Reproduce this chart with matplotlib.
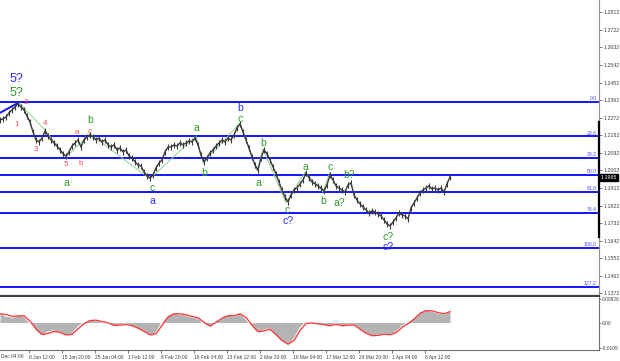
import matplotlib
matplotlib.use("Agg")
import matplotlib.pyplot as plt
import matplotlib.transforms as mtrans
import numpy as np

plt.rcParams['font.family'] = ['Liberation Sans', 'DejaVu Sans']

# ---------------- data ----------------
close = [1.2261, 1.2266, 1.2276, 1.2297, 1.2312, 1.2327, 1.2343, 1.2327, 1.2312, 1.2281,
         1.2250, 1.2199, 1.2158, 1.2148, 1.2168, 1.2204, 1.2179, 1.2158, 1.2143, 1.2127,
         1.2107, 1.2087, 1.2076, 1.2097, 1.2127, 1.2143, 1.2158, 1.2122, 1.2158, 1.2174,
         1.2184, 1.2174, 1.2158, 1.2168, 1.2148, 1.2158, 1.2133, 1.2122, 1.2133, 1.2107,
         1.2117, 1.2097, 1.2107, 1.2076, 1.2066, 1.2046, 1.2030, 1.2025, 1.1994, 1.1974,
         1.1964, 1.1979, 1.2015, 1.2040, 1.2056, 1.2097, 1.2122, 1.2122, 1.2133, 1.2127,
         1.2143, 1.2133, 1.2143, 1.2153, 1.2148, 1.2168, 1.2133, 1.2081, 1.2046, 1.2066,
         1.2092, 1.2107, 1.2127, 1.2143, 1.2158, 1.2148, 1.2168, 1.2158, 1.2184, 1.2220,
         1.2240, 1.2199, 1.2158, 1.2117, 1.2071, 1.2030, 1.2005, 1.2066, 1.2107, 1.2087,
         1.2056, 1.2020, 1.1984, 1.1943, 1.1902, 1.1866, 1.1841, 1.1877, 1.1902, 1.1912,
         1.1933, 1.1953, 1.1989, 1.1964, 1.1943, 1.1933, 1.1923, 1.1912, 1.1897, 1.1928,
         1.1979, 1.1953, 1.1923, 1.1912, 1.1902, 1.1892, 1.1928, 1.1938, 1.1877, 1.1851,
         1.1831, 1.1815, 1.1800, 1.1784, 1.1795, 1.1790, 1.1779, 1.1769, 1.1749, 1.1728,
         1.1718, 1.1738, 1.1759, 1.1784, 1.1774, 1.1769, 1.1754, 1.1810, 1.1836, 1.1861,
         1.1887, 1.1902, 1.1912, 1.1923, 1.1907, 1.1912, 1.1902, 1.1912, 1.1892, 1.1933,
         1.1969]

macd = [0.00391, 0.00267, 0.00226, 0.00309, 0.00267, -0.00021, -0.00350, -0.00556, -0.00391, -0.00350,
        -0.00432, -0.00556, -0.00473, -0.00185, 0.00021, 0.00103, 0.00103, 0.00021, -0.00021, -0.00144,
        -0.00103, -0.00062, -0.00144, -0.00267, -0.00391, -0.00556, -0.00432, 0.00021, 0.00309, 0.00391,
        0.00350, 0.00309, 0.00226, 0.00185, -0.00062, -0.00185, 0.00062, 0.00226, 0.00309, 0.00267,
        0.00391, 0.00144, -0.00185, -0.00432, -0.00309, -0.00267, -0.00556, -0.00802, -0.00926, -0.00679,
        -0.00226, 0.00021, -0.00021, -0.00062, -0.00103, -0.00144, -0.00062, -0.00144, -0.00103, -0.00103,
        -0.00309, -0.00473, -0.00556, -0.00514, -0.00473, -0.00514, -0.00391, -0.00144, -0.00021, 0.00185,
        0.00432, 0.00514, 0.00473, 0.00391, 0.00350, 0.00473]

signal = [0.0036, 0.0033, 0.0026, 0.0027, 0.0028, 0.0006, -0.0026, -0.0049, -0.0045, -0.0037,
          -0.0040, -0.0051, -0.0049, -0.0026, -0.0005, 0.0008, 0.0010, 0.0004, -0.0001, -0.0012,
          -0.0011, -0.0008, -0.0013, -0.0023, -0.0036, -0.0051, -0.0046, -0.0012, 0.0023, 0.0036,
          0.0036, 0.0032, 0.0025, 0.0020, 0.0001, -0.0015, 0.0001, 0.0018, 0.0028, 0.0028,
          0.0036, 0.0021, -0.0011, -0.0038, -0.0034, -0.0028, -0.0049, -0.0074, -0.0089, -0.0074,
          -0.0033, -0.0004, -0.0002, -0.0005, -0.0009, -0.0013, -0.0008, -0.0013, -0.0011, -0.0010,
          -0.0027, -0.0044, -0.0054, -0.0053, -0.0048, -0.0050, -0.0042, -0.0020, -0.0005, 0.0014,
          0.0038, 0.0049, 0.0048, 0.0041, 0.0036, 0.0045]

price_ticks = [1.2812, 1.2722, 1.2632, 1.2542, 1.2452, 1.2362, 1.2272, 1.2182, 1.2092,
               1.2002, 1.1912, 1.1822, 1.1732, 1.1642, 1.1552, 1.1462, 1.1372]
fib_names = ['0.0', '23.6', '38.2', '50.0', '61.8', '76.4', '100.0', '127.2']
fib_prices = [1.2353, 1.2177, 1.2068, 1.1980, 1.1892, 1.1783, 1.1607, 1.1404]
first_date_label = 'Dec 04:00'
date_labels = ['8 Jan 12:00', '15 Jan 20:00', '25 Jan 04:00', '1 Feb 12:00', '8 Feb 20:00',
               '16 Feb 04:00', '23 Feb 12:00', '2 Mar 20:00', '10 Mar 04:00', '17 Mar 12:00',
               '24 Mar 20:00', '1 Apr 04:00', '8 Apr 12:00']
last_price = 1.1965

# wave labels: (text, slot, price, group)
wave_labels = [
    ('5?', 16, 1.2471, 'blue_big'), ('5?', 16, 1.2399, 'green_big'),
    ('2', 26, 1.2348, 'red'), ('1', 17, 1.2235, 'red'), ('4', 45, 1.2245, 'red'),
    ('3', 36, 1.2107, 'red'), ('5', 66, 1.2030, 'red'), ('a', 77, 1.2194, 'red'),
    ('b', 81, 1.2040, 'red'), ('c', 90, 1.2204, 'red'),
    ('b', 90, 1.2261, 'green'), ('a', 66, 1.1938, 'green'),
    ('c', 152, 1.1912, 'green'), ('a', 152, 1.1846, 'blue'),
    ('a', 196, 1.2220, 'green'), ('b', 204, 1.1989, 'green'),
    ('c', 240, 1.2266, 'green'), ('b', 240, 1.2322, 'blue'),
    ('b', 263, 1.2143, 'green'), ('a', 258, 1.1938, 'green'),
    ('c', 287, 1.1800, 'green'), ('c?', 288, 1.1743, 'blue'),
    ('a', 305, 1.2020, 'green'), ('b', 323, 1.1846, 'green'),
    ('c', 330, 1.2020, 'green'), ('a?', 339, 1.1836, 'green'),
    ('b?', 349, 1.1979, 'green'), ('c?', 388, 1.1662, 'green'), ('c?', 388, 1.1610, 'blue'),
]
zig_slots = [20, 45, 66, 90, 150, 196, 203, 240, 257, 263, 286, 305, 323, 330]
zig_prices = [1.2343, 1.2209, 1.2071, 1.2189, 1.1959, 1.2179, 1.2040, 1.2245, 1.2000,
              1.2112, 1.1836, 1.1994, 1.1892, 1.1994]
blue_wave_slots = [0, 18]
blue_wave_prices = [1.2297, 1.2348]

styles = {
    'blue_big': ('#2a2aff', 9), 'green_big': ('#2e9a2e', 9),
    'blue': ('#2a2aff', 7.5), 'green': ('#2e9a2e', 7.5), 'red': ('#ff4a4a', 5.8),
}

# ---------------- figure ----------------
W, H = 620, 361
fig = plt.figure(figsize=(W / 100, H / 100), dpi=100)
ax = fig.add_axes([0, 65 / H, 599 / W, 296 / H])
ax.set_xlim(0, 599)
ax.set_ylim(1.1359, 1.2875)

xs = np.arange(len(close)) * 3
for p, name in zip(fib_prices, fib_names):
    ax.axhline(p, color='#1414ff', lw=1.4, zorder=2)
    ax.text(597, p + 0.0004, name, color='#4a4aff', fontsize=3.7, ha='right', va='bottom')

ax.plot(zig_slots, zig_prices, color='#8ed08e', lw=0.7, zorder=3)
ax.plot(blue_wave_slots, blue_wave_prices, color='#1414ff', lw=1.4, zorder=3)
ax.plot(xs, close, color='#3a3a3a', lw=1.0, zorder=4)
ax.plot(xs, close, ls='none', marker='|', ms=4, mew=0.8, color='#3a3a3a', zorder=4)

for txt, sx, py, grp in wave_labels:
    c, s = styles[grp]
    ax.text(sx, py, txt, color=c, fontsize=s, ha='center', va='center', zorder=5)

ax.yaxis.tick_right()
ax.set_yticks(price_ticks)
ax.set_yticklabels([f'{v:.4f}' for v in price_ticks])
ax.tick_params(axis='y', labelsize=3.8, length=2, width=0.5, colors='#404040', pad=1.2)
ax.set_xticks([])
for s in ['top', 'left']:
    ax.spines[s].set_visible(False)
ax.spines['right'].set_color('#909090')
ax.spines['right'].set_linewidth(0.8)
ax.spines['bottom'].set_color('#404040')
ax.spines['bottom'].set_linewidth(1.6)

bt = mtrans.blended_transform_factory(ax.transAxes, ax.transData)
ax.plot([1, 1], [1.2250, 1.1660], transform=bt, color='black', lw=1.6, clip_on=False, zorder=6)
ax.text(1.003, last_price, f'{last_price:.4f}', transform=bt, color='white', fontsize=3.8,
        ha='left', va='center', zorder=7,
        bbox=dict(boxstyle='square,pad=0.2', fc='black', ec='black'))

# ---------------- oscillator ----------------
ax2 = fig.add_axes([0, 11 / H, 599 / W, 53 / H])
ax2.set_xlim(0, 599)
ax2.set_ylim(-0.0113, 0.0105)
xo = np.arange(len(macd)) * 6
ax2.fill_between(xo, 0, macd, color='#b4b4b4', lw=0)
ax2.plot(xo, macd, color='white', lw=0.8)
ax2.plot(xo, signal, color='#ff3535', lw=0.9)
ax2.yaxis.tick_right()
ax2.set_yticks([0.0095, 0.0, -0.0105])
ax2.set_yticklabels(['0.00926', '0.00', '-0.0109'])
ax2.tick_params(axis='y', labelsize=3.5, length=1.5, width=0.5, colors='#404040', pad=0.6)
tick_slots = [29 + 33 * i for i in range(len(date_labels))]
ax2.set_xticks(tick_slots)
ax2.set_xticklabels(date_labels)
for lab in ax2.get_xticklabels():
    lab.set_horizontalalignment('left')
ax2.tick_params(axis='x', labelsize=3.5, length=2.5, width=0.5, colors='#404040', pad=1)
for s in ['top', 'left']:
    ax2.spines[s].set_visible(False)
for s in ['right', 'bottom']:
    ax2.spines[s].set_color('#707070')
    ax2.spines[s].set_linewidth(0.8)
bt2 = mtrans.blended_transform_factory(ax2.transData, ax2.transAxes)
ax2.text(1, -0.075, first_date_label, transform=bt2, fontsize=3.5, color='#404040',
         ha='left', va='top', clip_on=False)

fig.savefig('out.png', dpi=100)
